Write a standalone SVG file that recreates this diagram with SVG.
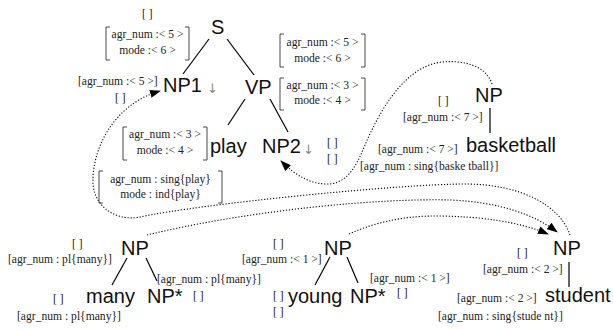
<svg xmlns="http://www.w3.org/2000/svg" width="613" height="329" viewBox="0 0 613 329">
  <defs>
    <marker id="arrow" markerWidth="11" markerHeight="8" refX="10" refY="4" orient="auto" markerUnits="userSpaceOnUse">
      <path d="M0,0 L11,4 L0,8 Z" fill="#000"/>
    </marker>
  </defs>
  <style>
    .lbl{font-family:"Liberation Sans",Arial,sans-serif;font-size:20px;fill:#111}
    .fs{font-family:"Liberation Serif","Times New Roman",serif;font-size:11.6px;fill:#222}
    .mid{text-anchor:middle}
    .down{font-family:"DejaVu Sans",sans-serif;font-size:13px;fill:#888}
    .edge{stroke:#000;stroke-width:1.2;fill:none}
    .link{stroke:#000;stroke-width:1.1;fill:none;stroke-dasharray:1.2 1.8}
    .brk{stroke:#333;stroke-width:0.9;fill:none}
  </style>
  <rect width="613" height="329" fill="#fff"/>

  <!-- tree edges and derivation links -->
  <g id="connectors">
    <line class="edge" x1="209" y1="39" x2="183" y2="74"/>
    <line class="edge" x1="227" y1="39" x2="254" y2="75"/>
    <line class="edge" x1="245" y1="99" x2="228" y2="125"/>
    <line class="edge" x1="270" y1="99" x2="288" y2="132"/>
    <line class="edge" x1="490" y1="108" x2="490" y2="133"/>
    <line class="edge" x1="127" y1="258" x2="112" y2="285"/>
    <line class="edge" x1="146" y1="258" x2="157" y2="281"/>
    <line class="edge" x1="330" y1="257" x2="315" y2="285"/>
    <line class="edge" x1="347" y1="257" x2="358" y2="283"/>
    <line class="edge" x1="569" y1="262" x2="569" y2="287"/>

    <!-- substitution: student NP into NP1 -->
    <path class="link" marker-end="url(#arrow)" d="M570,235 C560,205 520,184 465,184 C400,184 200,204 140,217 C115,222 92,205 93,180 C93,150 112,105 160,91"/>
    <!-- substitution: basketball NP into NP2 -->
    <path class="link" marker-end="url(#arrow)" d="M492,84 C486,66 465,60 442,62 C405,66 380,110 365,145 C355,170 345,185 325,184 C305,183 290,170 281,161"/>
    <!-- adjunction: many into student NP -->
    <path class="link" marker-end="url(#arrow)" d="M147,235 C250,210 380,198 450,200 C500,202 535,215 557,232"/>
    <!-- adjunction: young into student NP -->
    <path class="link" marker-end="url(#arrow)" d="M349,234 C380,220 410,216 435,216 C480,216 520,222 548,234"/>
  </g>

  <g id="S">
    <text class="fs" x="142" y="18">[ ]</text>
    <path class="brk" d="M110,27 H106 V60 H110 M185,27 H189 V60 H185"/>
    <text class="fs mid" x="147.5" y="38">agr_num :&lt; 5 &gt;</text>
    <text class="fs mid" x="147.5" y="54">mode :&lt; 6 &gt;</text>
    <text class="lbl" x="211" y="34">S</text>
    <path class="brk" d="M284,34 H280 V67 H284 M361,34 H365 V67 H361"/>
    <text class="fs mid" x="322.5" y="46">agr_num :&lt; 5 &gt;</text>
    <text class="fs mid" x="322.5" y="62">mode :&lt; 6 &gt;</text>
  </g>

  <g id="NP1">
    <text class="fs" x="78" y="85">[agr_num :&lt; 5 &gt;]</text>
    <text class="fs" x="115" y="102">[ ]</text>
    <text class="lbl" x="163" y="92">NP1</text>
    <text class="down" x="207" y="93">↓</text>
  </g>

  <g id="VP">
    <text class="lbl" x="245" y="94">VP</text>
    <path class="brk" d="M284,78 H280 V110 H284 M361,78 H365 V110 H361"/>
    <text class="fs mid" x="322.5" y="89">agr_num :&lt; 3 &gt;</text>
    <text class="fs mid" x="322.5" y="104">mode :&lt; 4 &gt;</text>
  </g>

  <g id="play">
    <path class="brk" d="M127,127 H123 V160 H127 M203,127 H207 V160 H203"/>
    <text class="fs mid" x="165" y="138">agr_num :&lt; 3 &gt;</text>
    <text class="fs mid" x="165" y="154">mode :&lt; 4 &gt;</text>
    <text class="lbl" x="210" y="153">play</text>
    <path class="brk" d="M103,171 H99 V203 H103 M218,171 H222 V203 H218"/>
    <text class="fs mid" x="160.5" y="183">agr_num : sing{play}</text>
    <text class="fs mid" x="160.5" y="198">mode : ind{play}</text>
  </g>

  <g id="NP2">
    <text class="lbl" x="262" y="153">NP2</text>
    <text class="down" x="303" y="154">↓</text>
    <text class="fs" x="327" y="147">[ ]</text>
    <text class="fs" x="327" y="163">[ ]</text>
  </g>

  <g id="NP-basketball">
    <text class="fs" x="438" y="105">[ ]</text>
    <text class="lbl" x="475" y="102">NP</text>
    <text class="fs" x="403" y="121">[agr_num :&lt; 7 &gt;]</text>
  </g>

  <g id="basketball">
    <text class="fs" x="378" y="153">[agr_num :&lt; 7 &gt;]</text>
    <text class="lbl" x="466" y="152">basketball</text>
    <text class="fs" x="360" y="170">[agr_num : sing{baske tball}]</text>
  </g>

  <g id="NP-many">
    <text class="fs" x="72" y="248">[ ]</text>
    <text class="fs" x="8" y="263">[agr_num : pl{many}]</text>
    <text class="lbl" x="121" y="255">NP</text>
  </g>

  <g id="many">
    <text class="fs" x="53" y="303">[ ]</text>
    <text class="lbl" x="86" y="303">many</text>
    <text class="fs" x="17" y="320">[agr_num : pl{many}]</text>
  </g>

  <g id="NP-foot-many">
    <text class="fs" x="157" y="283">[agr_num : pl{many}]</text>
    <text class="lbl" x="147" y="303">NP*</text>
    <text class="fs" x="193" y="300">[ ]</text>
  </g>

  <g id="NP-young">
    <text class="fs" x="273" y="248">[ ]</text>
    <text class="fs" x="242" y="263">[agr_num :&lt; 1 &gt;]</text>
    <text class="lbl" x="324" y="255">NP</text>
  </g>

  <g id="young">
    <text class="fs" x="273" y="300">[ ]</text>
    <text class="fs" x="273" y="316">[ ]</text>
    <text class="lbl" x="288" y="303">young</text>
  </g>

  <g id="NP-foot-young">
    <text class="fs" x="370" y="282">[agr_num :&lt; 1 &gt;]</text>
    <text class="lbl" x="350" y="303">NP*</text>
    <text class="fs" x="397" y="297">[ ]</text>
  </g>

  <g id="NP-student">
    <text class="fs" x="517" y="257">[ ]</text>
    <text class="lbl" x="553" y="255">NP</text>
    <text class="fs" x="483" y="273">[agr_num :&lt; 2 &gt;]</text>
  </g>

  <g id="student">
    <text class="fs" x="457" y="302">[agr_num :&lt; 2 &gt;]</text>
    <text class="lbl" x="545" y="302">student</text>
    <text class="fs" x="438" y="320">[agr_num : sing{stude nt}]</text>
  </g>
</svg>
